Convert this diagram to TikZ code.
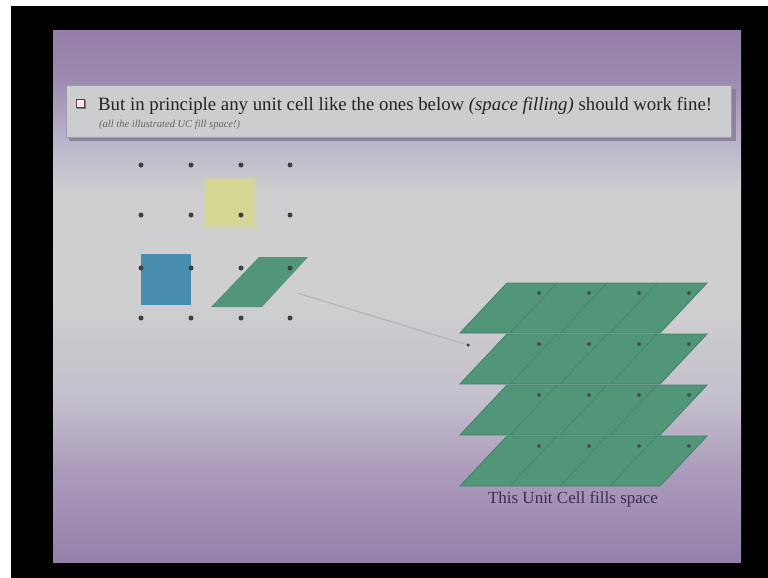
\documentclass[tikz,border=0pt]{standalone}
\usepackage{fontspec}
\setmainfont{Liberation Serif}
\definecolor{sp1}{RGB}{150,128,170}
\definecolor{sp2}{RGB}{172,156,188}
\definecolor{sp3}{RGB}{196,191,205}
\definecolor{sp4}{RGB}{207,207,208}
\definecolor{sp5}{RGB}{206,206,208}
\definecolor{sp6}{RGB}{186,180,202}
\definecolor{sp7}{RGB}{158,140,176}
\definecolor{sp8}{RGB}{148,126,168}
\pgfdeclareverticalshading{slidebg}{100bp}{color(0bp)=(sp1); color(25bp)=(sp1); color(33.7bp)=(sp2); color(40.3bp)=(sp3); color(49.7bp)=(sp4); color(60bp)=(sp5); color(64.7bp)=(sp6); color(70.4bp)=(sp7); color(75bp)=(sp8); color(100bp)=(sp8)}
\definecolor{cellgreen}{RGB}{82,150,122}
\definecolor{celledge}{RGB}{68,130,104}
\definecolor{cellblue}{RGB}{72,140,175}
\definecolor{cellyellow}{RGB}{216,216,142}
\definecolor{dotgrey}{RGB}{62,62,66}
\definecolor{boxfill}{RGB}{204,205,206}
\definecolor{boxedge}{RGB}{158,152,182}
\definecolor{boxshadow}{RGB}{128,118,150}
\definecolor{txt}{RGB}{36,34,42}
\definecolor{labeltxt}{RGB}{56,46,88}
\definecolor{chkedge}{RGB}{110,55,65}
\definecolor{linegrey}{RGB}{178,180,178}
\tikzset{
  latdot/.style={circle,fill=dotgrey,inner sep=0pt,minimum size=5pt},
  layer/.style={fill=cellgreen,draw=celledge,line width=0.9pt},
  divider/.style={draw=celledge,line width=0.6pt},
  faintline/.style={draw=linegrey,line width=1pt}
}
\begin{document}
\begin{tikzpicture}[x=1pt,y=-1pt]
\useasboundingbox (0,0) rectangle (768,578);
\fill[white] (0,0) rectangle (768,578);
\fill[black] (11,6) rectangle (768,578);
\shade[shading=slidebg] (53,31) rectangle (741,562);
% title box
\fill[boxshadow,opacity=0.75] (69,89) rectangle (736,141);
\node[draw=boxedge,fill=boxfill,line width=1pt,minimum width=665pt,minimum height=52pt,anchor=north west,inner sep=0pt] (titlebox) at (66,85) {};
\fill[chkedge!60!black,opacity=0.5] (77,100) rectangle (86,109);
\node[draw=chkedge,fill=white!88!gray,line width=0.9pt,minimum size=8pt,inner sep=0pt] (chk) at (80,103) {};
\node[anchor=base west,inner sep=0pt,text=txt,font=\fontsize{18.8}{22}\selectfont] (title) at (98,110)
  {But in principle any unit cell like the ones below \textit{(space filling)} should work fine!};
\node[anchor=base west,inner sep=0pt,text=txt!70!white,font=\fontsize{10.5}{12}\selectfont\itshape] (sub) at (99,127)
  {(all the illustrated UC fill space!)};
% yellow square (soft)
\fill[cellyellow,opacity=0.35] (203,177) rectangle (257,229);
\fill[cellyellow,opacity=0.85] (206,180) rectangle (254,226);
% blue square
\fill[cellblue] (141,254) rectangle (191,305);
% green parallelogram
\fill[cellgreen] (259,257) -- (308,257) -- (262,307) -- (211,307) -- cycle;
\coordinate (para) at (297,293);
% grid dots
\foreach \c/\x in {0/141,1/191,2/241,3/290}{
  \foreach \r/\y in {0/165,1/215,2/268,3/318}{
    \node[latdot] (g\c\r) at (\x,\y) {};
  }
}
% stacked layers
\foreach \k in {3,2,1,0}{
  \pgfmathsetmacro{\yt}{283+51*\k}
  \pgfmathsetmacro{\yb}{\yt+50}
  \path[layer] (507,\yt) -- (707,\yt) -- (660,\yb) -- (460,\yb) -- cycle;
  \foreach \j in {1,2,3}{
    \draw[divider] ({507+50*\j},\yt) -- ({460+50*\j},\yb);
  }
  \foreach \j in {0,1,2,3}{
    \node[latdot,minimum size=4pt,fill=dotgrey!75!cellgreen] (s\k\j) at ({539+50*\j},{\yt+10}) {};
  }
}
\node[latdot,minimum size=3.5pt] (origin) at (468,345) {};
\draw[faintline] (para) -- (origin);
\node[text=labeltxt,font=\fontsize{17}{20}\selectfont,inner sep=0pt] (lbl) at (573,499) {This Unit Cell fills space};
\end{tikzpicture}
\end{document}
